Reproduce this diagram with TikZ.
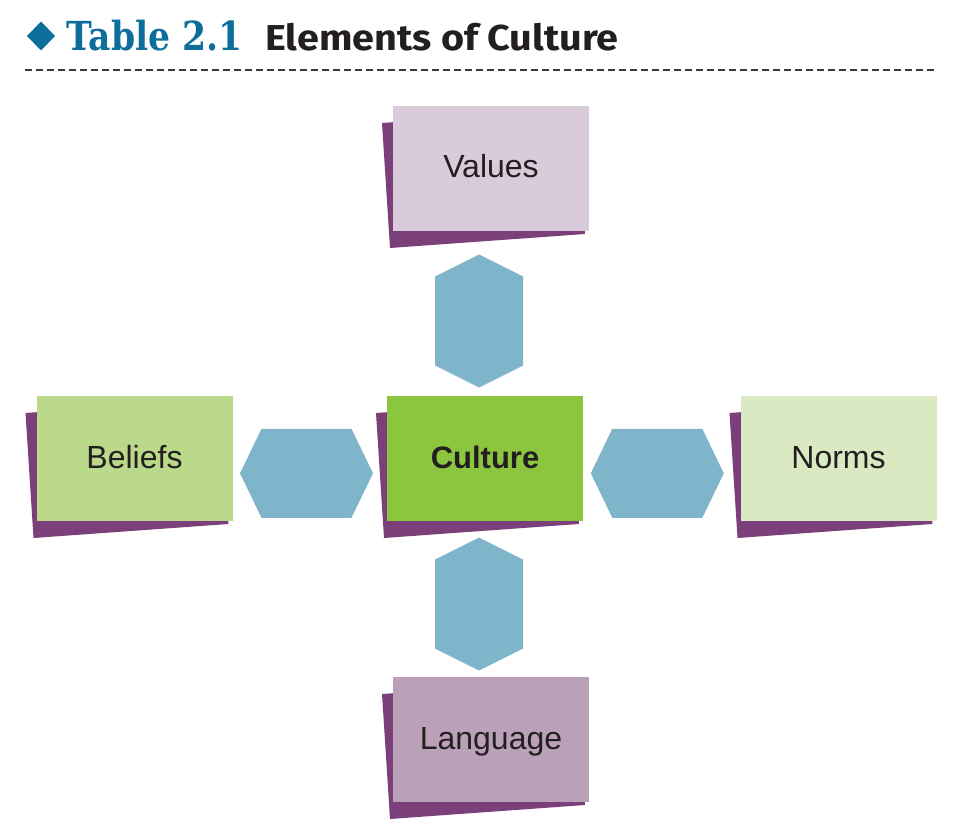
\documentclass[tikz,border=0pt]{standalone}
\usepackage{fontspec}
\setmainfont{Liberation Sans}
\newfontfamily\titleserif[FakeStretch=0.865]{DejaVu Serif}
\newfontfamily\titlesans[FakeStretch=1.1]{Fira Sans}
\usetikzlibrary{calc,backgrounds}
\definecolor{valuesc}{HTML}{D9CBDA}
\definecolor{langc}{HTML}{BBA0BA}
\definecolor{shadowc}{HTML}{7B3F7A}
\definecolor{beliefsc}{HTML}{BBD98A}
\definecolor{culturec}{HTML}{8CC63F}
\definecolor{normsc}{HTML}{DAE9C1}
\definecolor{hexc}{HTML}{7FB5CA}
\definecolor{titleblue}{HTML}{0D6E9B}
\definecolor{inkc}{HTML}{231F20}
\definecolor{rulec}{HTML}{3A3A3A}
\newcommand\boxshadow[1]{\fill[shadowc] ($(#1.north west)+(-11,17)$) -- ($(#1.north east)+(-12,3)$) -- ($(#1.south east)+(-4,3)$) -- ($(#1.south west)+(-3,17)$) -- cycle;}
\newcommand\hexh[1]{\fill[hexc] ($(#1)+(-66.5,0)$) -- ($(#1)+(-45,-44.5)$) -- ($(#1)+(45,-44.5)$) -- ($(#1)+(66.5,0)$) -- ($(#1)+(45,44.5)$) -- ($(#1)+(-45,44.5)$) -- cycle;}
\newcommand\hexv[1]{\fill[hexc] ($(#1)+(0,-66.5)$) -- ($(#1)+(44,-44.5)$) -- ($(#1)+(44,44.5)$) -- ($(#1)+(0,66.5)$) -- ($(#1)+(-44,44.5)$) -- ($(#1)+(-44,-44.5)$) -- cycle;}
\begin{document}
\begin{tikzpicture}[x=1pt,y=-1pt,
  elbox/.style={minimum width=196pt, minimum height=125pt, inner sep=0pt, outer sep=0pt,
    text height=19pt, text depth=0pt, text=inkc, font=\fontsize{32}{36}\selectfont},
  corebox/.style={elbox, font=\fontsize{31}{36}\selectfont\bfseries}]
\useasboundingbox (0,0) rectangle (959,832);

% title
\coordinate (bullet) at (41,36);
\fill[titleblue] ($(bullet)+(0,-14.5)$) -- ($(bullet)+(14,0)$) -- ($(bullet)+(0,14.5)$) -- ($(bullet)+(-14,0)$) -- cycle;
\node[anchor=base west, inner sep=0pt, text=titleblue, font=\titleserif\bfseries\fontsize{40}{44}\selectfont] (tnum) at (66,50.5) {Table 2.1};
\node[anchor=base west, inner sep=0pt, text=inkc, font=\titlesans\bfseries\fontsize{36}{40}\selectfont] (ttitle) at (265,50.5) {Elements of Culture};
\coordinate (ruleA) at (25,70);
\coordinate (ruleB) at (937,70);
\draw[rulec, line width=2.2pt, dash pattern=on 6.7pt off 4.3pt] (ruleA) -- (ruleB);

% boxes
\node[elbox, fill=valuesc] (values) at (491,168.5) {Values};
\node[elbox, fill=beliefsc] (beliefs) at (134.5,458.5) {Beliefs};
\node[corebox, fill=culturec] (culture) at (485,458.5) {Culture};
\node[elbox, fill=normsc] (norms) at (838.5,458.5) {Norms};
\node[elbox, fill=langc] (language) at (491,739.5) {Language};

\begin{pgfonlayer}{background}
\boxshadow{values}
\boxshadow{beliefs}
\boxshadow{culture}
\boxshadow{norms}
\boxshadow{language}
\end{pgfonlayer}

% hexagon links
\coordinate (hexTop) at (479,321);
\coordinate (hexBottom) at (479,604);
\coordinate (hexLeft) at (306.5,473.3);
\coordinate (hexRight) at (657.3,473.3);
\hexv{hexTop}
\hexv{hexBottom}
\hexh{hexLeft}
\hexh{hexRight}
\end{tikzpicture}
\end{document}
